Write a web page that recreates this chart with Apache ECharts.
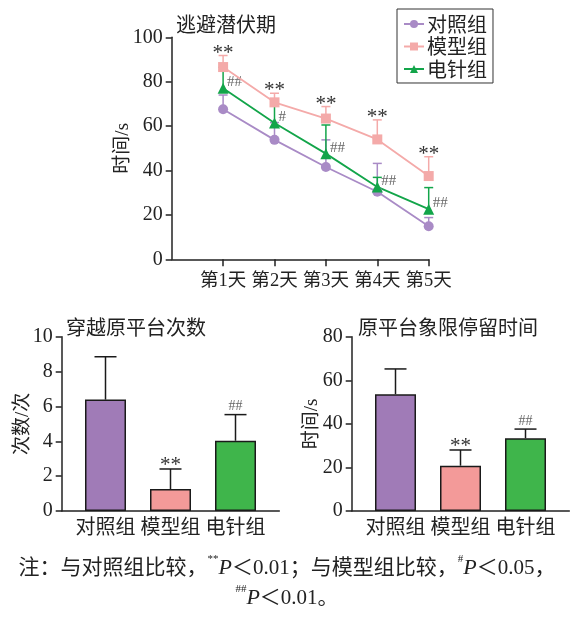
<!DOCTYPE html>
<html><head><meta charset="utf-8">
<script src="https://cdn.jsdelivr.net/npm/echarts@6/dist/echarts.min.js"></script>
<style>html,body{margin:0;padding:0;background:#fff}#c{width:574px;height:617px}</style>
</head><body><div id="c"></div>
<script>
// ---- data ----
const days = ['第1天', '第2天', '第3天', '第4天', '第5天'];
const groups = ['对照组', '模型组', '电针组'];
const latCtrl = [67.6, 53.8, 41.6, 30.4, 14.9];
const latCtrlSD = [6.4, 7.8, 12.2, 12.8, 3.9];
const latModel = [86.6, 70.7, 63.4, 54.0, 37.5];
const latModelSD = [5.2, 4.1, 5.4, 8.8, 8.7];
const latEA = [77.0, 61.4, 47.6, 32.6, 22.6];
const latEASD = [9.5, 9.6, 12.9, 4.3, 9.7];
const latModelMark = ['**', '**', '**', '**', '**'];
const latEAMark = ['##', '#', '##', '##', '##'];
const crossMean = [6.39, 1.26, 4.03];
const crossSD = [2.46, 1.15, 1.50];
const crossMark = ['', '**', '##'];
const stayMean = [53.6, 20.8, 33.4];
const staySD = [11.6, 7.2, 4.2];
const stayMark = ['', '**', '##'];
const latAxis = { min: 0, max: 100, interval: 20 };
const crossAxis = { min: 0, max: 10, interval: 2 };
const stayAxis = { min: 0, max: 80, interval: 20 };

// ---- styles ----
const SERIF = "'Liberation Serif','Noto Sans CJK SC',serif";
const CJK = "'Noto Sans CJK SC','Liberation Serif',sans-serif";
const INK = '#222';
const cPurple = '#a98bc6', cPink = '#f4aaa9', cGreen = '#13a54a';
const barColors = ['#a07bb7', '#f39a99', '#3fb54b'];

function yValueAxis(gi, ax, name, gap, show) {
  return {
    gridIndex: gi, type: 'value', min: ax.min, max: ax.max, interval: ax.interval, show: show,
    name: name, nameLocation: 'middle', nameGap: gap, nameMoveOverlap: false,
    nameTextStyle: { fontFamily: SERIF, fontSize: 19, color: INK },
    axisLine: { show: true, lineStyle: { color: INK, width: 1.5 } },
    axisTick: { show: true, length: 6, lineStyle: { color: INK, width: 1.5 } },
    axisLabel: { fontFamily: SERIF, fontSize: 20, color: INK, margin: 9 },
    splitLine: { show: false }
  };
}

function lineErr(color, marks, markMode) {
  return function (params, api) {
    const x = api.value(0), m = api.value(1), sd = api.value(2);
    const p0 = api.coord([x, m]), p1 = api.coord([x, m + sd]);
    const ch = [
      { type: 'line', shape: { x1: p0[0], y1: p0[1], x2: p1[0], y2: p1[1] }, style: { stroke: color, lineWidth: 1.5 } },
      { type: 'line', shape: { x1: p1[0] - 4.5, y1: p1[1], x2: p1[0] + 4.5, y2: p1[1] }, style: { stroke: color, lineWidth: 1.5 } }
    ];
    const t = marks ? marks[params.dataIndex] : '';
    if (t && markMode === 'top') {
      ch.push({ type: 'text', style: { text: t, x: p1[0], y: p1[1] + 8, align: 'center', verticalAlign: 'bottom',
        font: '21px ' + SERIF, fill: '#333' } });
    } else if (t && markMode === 'right') {
      ch.push({ type: 'text', style: { text: t, x: p0[0] + 4, y: p0[1] - 6, align: 'left', verticalAlign: 'middle',
        font: '15px ' + SERIF, fill: '#666' } });
    }
    return { type: 'group', children: ch };
  };
}

function barErr(marks) {
  return function (params, api) {
    const x = api.value(0), m = api.value(1), sd = api.value(2);
    const p0 = api.coord([x, m]), p1 = api.coord([x, m + sd]);
    const ch = [
      { type: 'line', shape: { x1: p0[0], y1: p0[1], x2: p1[0], y2: p1[1] }, style: { stroke: '#1a1a1a', lineWidth: 1.5 } },
      { type: 'line', shape: { x1: p1[0] - 11, y1: p1[1], x2: p1[0] + 11, y2: p1[1] }, style: { stroke: '#1a1a1a', lineWidth: 1.5 } }
    ];
    const t = marks[params.dataIndex];
    if (t === '**') {
      ch.push({ type: 'text', style: { text: t, x: p1[0], y: p1[1] + 7, align: 'center', verticalAlign: 'bottom', font: '21px ' + SERIF, fill: '#333' } });
    } else if (t) {
      ch.push({ type: 'text', style: { text: t, x: p1[0], y: p1[1] - 1, align: 'center', verticalAlign: 'bottom', font: '14px ' + SERIF, fill: '#666' } });
    }
    return { type: 'group', children: ch };
  };
}

const catLabel = { fontFamily: SERIF, fontSize: 20, color: INK, margin: 8, interval: 0 };

const option = {
  animation: false,
  backgroundColor: '#fff',
  title: [
    { text: '逃避潜伏期', left: 171, top: 9, textStyle: { fontFamily: CJK, fontSize: 20, fontWeight: 'normal', color: INK } },
    { text: '穿越原平台次数', left: 61, top: 312, textStyle: { fontFamily: CJK, fontSize: 20, fontWeight: 'normal', color: INK } },
    { text: '原平台象限停留时间', left: 353, top: 312, textStyle: { fontFamily: CJK, fontSize: 20, fontWeight: 'normal', color: INK } }
  ],
  legend: {
    data: groups, orient: 'vertical', left: 397, top: 9,
    borderColor: '#333', borderWidth: 1, padding: [5, 6, 4, 6], itemGap: 2.5,
    itemWidth: 20, itemHeight: 10,
    textStyle: { fontFamily: CJK, fontSize: 20, color: INK, padding: [0, 0, 0, -2] }
  },
  grid: [
    { left: 171.7, top: 37.3, width: 257, height: 222 },
    { left: 61.7, top: 336.7, width: 217.6, height: 174.3 },
    { left: 73, top: 336.7, width: 195, height: 174.3 },
    { left: 351.7, top: 336.7, width: 217.6, height: 174.3 },
    { left: 363, top: 336.7, width: 195, height: 174.3 }
  ],
  xAxis: [
    { gridIndex: 0, type: 'category', data: [''].concat(days), boundaryGap: false,
      axisLine: { lineStyle: { color: INK, width: 1.5 } },
      axisTick: { show: true, length: 7, interval: function (i) { return i > 0; }, lineStyle: { color: INK, width: 1.5 } },
      axisLabel: { fontFamily: SERIF, fontSize: 18.5, color: INK, margin: 13, interval: 0 } },
    { gridIndex: 1, type: 'value', min: 0, max: 1, axisLine: { show: true, lineStyle: { color: INK, width: 1.5 } },
      axisTick: { show: false }, axisLabel: { show: false }, splitLine: { show: false } },
    { gridIndex: 2, type: 'category', data: groups, axisLine: { show: false }, axisTick: { show: false }, axisLabel: catLabel },
    { gridIndex: 3, type: 'value', min: 0, max: 1, axisLine: { show: true, lineStyle: { color: INK, width: 1.5 } },
      axisTick: { show: false }, axisLabel: { show: false }, splitLine: { show: false } },
    { gridIndex: 4, type: 'category', data: groups, axisLine: { show: false }, axisTick: { show: false }, axisLabel: catLabel }
  ],
  yAxis: [
    yValueAxis(0, latAxis, '时间/s', 39, true),
    yValueAxis(1, crossAxis, '次数/次', 29, true),
    yValueAxis(2, crossAxis, '', 0, false),
    yValueAxis(3, stayAxis, '时间/s', 30.5, true),
    yValueAxis(4, stayAxis, '', 0, false)
  ],
  series: [
    { type: 'custom', xAxisIndex: 0, yAxisIndex: 0, z: 1, renderItem: lineErr(cPurple, null, ''),
      data: latCtrl.map((v, i) => [i + 1, v, latCtrlSD[i]]) },
    { type: 'custom', xAxisIndex: 0, yAxisIndex: 0, z: 1, renderItem: lineErr(cGreen, latEAMark, 'right'),
      data: latEA.map((v, i) => [i + 1, v, latEASD[i]]) },
    { type: 'custom', xAxisIndex: 0, yAxisIndex: 0, z: 1, renderItem: lineErr(cPink, latModelMark, 'top'),
      data: latModel.map((v, i) => [i + 1, v, latModelSD[i]]) },
    { name: '对照组', type: 'line', xAxisIndex: 0, yAxisIndex: 0, z: 3, color: cPurple,
      symbol: 'circle', symbolSize: 10, lineStyle: { width: 1.8 }, itemStyle: { color: cPurple },
      data: latCtrl.map((v, i) => [i + 1, v]) },
    { name: '电针组', type: 'line', xAxisIndex: 0, yAxisIndex: 0, z: 3, color: cGreen,
      symbol: 'triangle', symbolSize: 11, lineStyle: { width: 1.8 }, itemStyle: { color: cGreen },
      data: latEA.map((v, i) => [i + 1, v]) },
    { name: '模型组', type: 'line', xAxisIndex: 0, yAxisIndex: 0, z: 4, color: cPink,
      symbol: 'rect', symbolSize: 10, lineStyle: { width: 1.8 }, itemStyle: { color: cPink },
      data: latModel.map((v, i) => [i + 1, v]) },
    { type: 'bar', xAxisIndex: 2, yAxisIndex: 2, barWidth: 41, z: 2,
      data: crossMean.map((v, i) => ({ value: v, itemStyle: { color: barColors[i], borderColor: '#1a1a1a', borderWidth: 1.5 } })) },
    { type: 'custom', xAxisIndex: 2, yAxisIndex: 2, z: 3, renderItem: barErr(crossMark),
      data: crossMean.map((v, i) => [i, v, crossSD[i]]) },
    { type: 'bar', xAxisIndex: 4, yAxisIndex: 4, barWidth: 41, z: 2,
      data: stayMean.map((v, i) => ({ value: v, itemStyle: { color: barColors[i], borderColor: '#1a1a1a', borderWidth: 1.5 } })) },
    { type: 'custom', xAxisIndex: 4, yAxisIndex: 4, z: 3, renderItem: barErr(stayMark),
      data: stayMean.map((v, i) => [i, v, staySD[i]]) }
  ],
  graphic: [
    { type: 'text', left: 'center', top: 554,
      style: {
        text: '{a|注：与对照组比较，}{s|**}{p|P}{a|＜0.01；与模型组比较，}{s|#}{p|P}{a|＜0.05，}',
        rich: {
          a: { fontFamily: SERIF, fontSize: 21, fill: INK, verticalAlign: 'bottom', lineHeight: 25 },
          s: { fontFamily: SERIF, fontSize: 11, fill: INK, verticalAlign: 'top', lineHeight: 25 },
          p: { fontFamily: SERIF, fontSize: 22, fontStyle: 'italic', fill: INK, verticalAlign: 'bottom', lineHeight: 25 }
        }
      } },
    { type: 'text', left: 'center', top: 584,
      style: {
        text: '{s|##}{p|P}{a|＜0.01。}',
        rich: {
          a: { fontFamily: SERIF, fontSize: 21, fill: INK, verticalAlign: 'bottom', lineHeight: 25 },
          s: { fontFamily: SERIF, fontSize: 11, fill: INK, verticalAlign: 'top', lineHeight: 25 },
          p: { fontFamily: SERIF, fontSize: 22, fontStyle: 'italic', fill: INK, verticalAlign: 'bottom', lineHeight: 25 }
        }
      } }
  ]
};

const chart = echarts.init(document.getElementById('c'), null, { renderer: 'canvas' });
chart.setOption(option);
</script>
</body></html>
